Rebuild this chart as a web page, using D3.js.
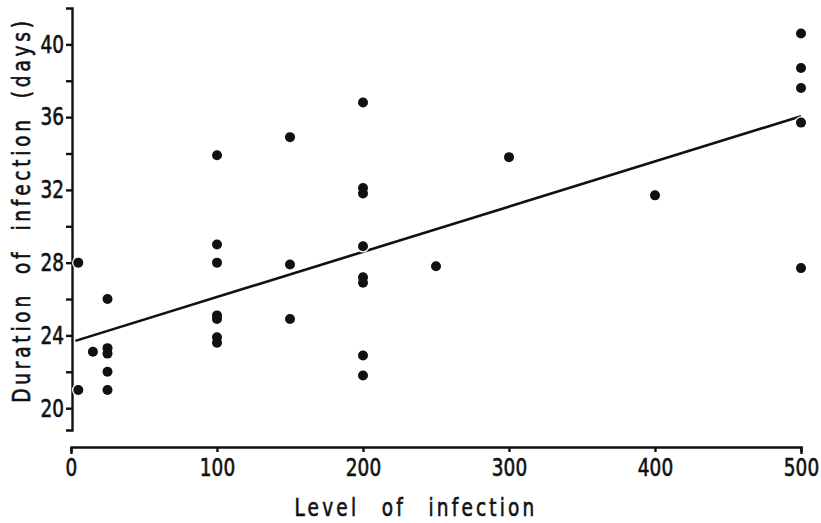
<!DOCTYPE html>
<html>
<head>
<meta charset="utf-8">
<script src="https://cdn.jsdelivr.net/npm/d3@7"></script>
<style>
  html, body { margin: 0; padding: 0; background: #fff; }
  svg { display: block; }
  .lbl { font-family: "Liberation Sans Narrow", "DejaVu Sans Condensed", sans-serif; fill: #111; stroke: #111; stroke-width: 0.6px; }
</style>
</head>
<body>
<svg id="chart" width="821" height="523"></svg>
<script>
// level of infection vs duration of infection (days)
const levels = [5, 5, 15, 25, 25, 25, 25, 25,
  100, 100, 100, 100, 100, 100, 100,
  150, 150, 150,
  200, 200, 200, 200, 200, 200, 200, 200,
  250, 300, 400,
  500, 500, 500, 500, 500];
const durations = [28.0, 21.0, 23.1, 26.0, 23.3, 23.0, 22.0, 21.0,
  33.9, 29.0, 28.0, 25.1, 24.9, 23.9, 23.6,
  34.9, 27.9, 24.9,
  36.8, 32.1, 31.8, 28.9, 27.2, 26.9, 22.9, 21.8,
  27.8, 33.8, 31.7,
  40.6, 38.7, 37.6, 35.7, 27.7];
// fitted line at its two ends
const fitLevels = [3, 500];
const fitDurations = [23.7, 36.05];

const xTicks = [0, 100, 200, 300, 400, 500];
const yTicks = [20, 24, 28, 32, 36, 40];
const yMinorTicks = [22, 26, 30, 34, 38];

const svg = d3.select('#chart');
const x = d3.scaleLinear().domain([0, 500]).range([71, 801]);
const y = d3.scaleLinear().domain([18.8, 42]).range([430, 8]);
const ink = '#111';
const squeeze = 0.84;

// y axis (left, with end caps)
svg.append('g').attr('transform', 'translate(72,0)')
  .call(d3.axisLeft(y).tickValues(yTicks).tickSize(6).tickSizeOuter(6).tickPadding(2));
svg.append('g').attr('transform', 'translate(72,0)')
  .call(d3.axisLeft(y).tickValues(yMinorTicks).tickSize(6).tickSizeOuter(0).tickFormat(''))
  .select('.domain').remove();

// x axis (separate, below)
svg.append('g').attr('transform', 'translate(0,447)')
  .call(d3.axisBottom(x).tickValues(xTicks).tickSize(5).tickSizeOuter(7).tickPadding(7));

svg.selectAll('.domain, .tick line').attr('stroke', ink).attr('stroke-width', 2.4);
svg.selectAll('.tick text').attr('class', 'lbl').attr('font-size', 24.5)
  .attr('transform', function () {
    const tx = +d3.select(this).attr('x') || 0;
    return `translate(${tx},0) scale(${squeeze},1)`;
  })
  .attr('x', 0);

// fitted line
svg.append('line')
  .attr('x1', x(fitLevels[0])).attr('y1', y(fitDurations[0]))
  .attr('x2', x(fitLevels[1])).attr('y2', y(fitDurations[1]))
  .attr('stroke', ink).attr('stroke-width', 2.6);

const pts = levels.map((v, i) => [v, durations[i]]);
// white halo under the dots so the line breaks around them
svg.append('g').selectAll('circle').data(pts).join('circle')
  .attr('cx', d => x(d[0])).attr('cy', d => y(d[1])).attr('r', 6.3)
  .attr('fill', '#fff');
svg.append('g').selectAll('circle').data(pts).join('circle')
  .attr('cx', d => x(d[0])).attr('cy', d => y(d[1])).attr('r', 5)
  .attr('fill', ink);

// axis titles
svg.append('text').attr('class', 'lbl')
  .attr('transform', `translate(416,516) scale(${squeeze},1)`).attr('text-anchor', 'middle')
  .attr('font-size', 24.5).attr('letter-spacing', 3.8).attr('word-spacing', 16)
  .text('Level of infection');

svg.append('text').attr('class', 'lbl')
  .attr('transform', `translate(30,210) rotate(-90) scale(${squeeze},1)`).attr('text-anchor', 'middle')
  .attr('font-size', 24.5).attr('letter-spacing', 4.5).attr('word-spacing', 10)
  .text('Duration of infection (days)');
</script>
</body>
</html>
